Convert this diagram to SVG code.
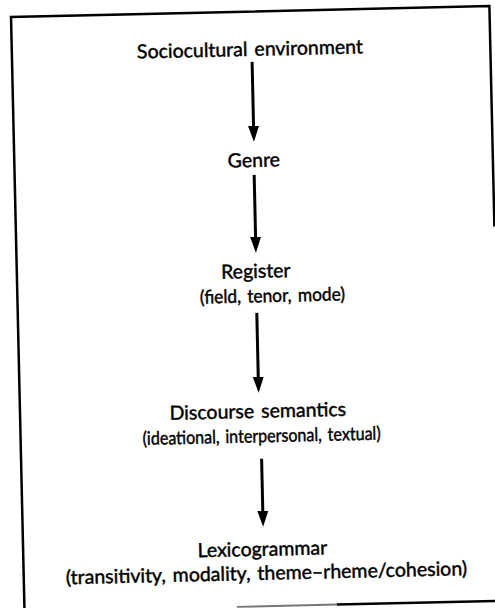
<svg xmlns="http://www.w3.org/2000/svg" width="495" height="608" viewBox="0 0 495 608">
<style>
.t{font-family:Lato,"Open Sans","Liberation Sans",sans-serif;font-size:19.5px;fill:#000;stroke:#000;stroke-width:0.45;text-anchor:middle;word-spacing:2px}
.s{font-size:18.5px;word-spacing:2px}
.f{stroke:#000;stroke-width:2.5;fill:none}
.c{stroke:#000;stroke-width:3;fill:none}
</style>
<defs>
<marker id="ah" markerWidth="16" markerHeight="23" refX="16" refY="8" orient="auto" markerUnits="userSpaceOnUse" viewBox="0 0 23 16">
<path d="M0,0 L23,8 L0,16 Z" fill="#000"/>
</marker>
</defs>
<rect width="495" height="608" fill="#fff"/>
<g transform="rotate(-1.3 250 300)">
<g id="frame">
<path class="f" d="M17.5,630 L17.5,11.6 L496,11.6 L496,232"/>
<path d="M230,606.5 L330,606.5" stroke="#777" stroke-width="2"/>
<path d="M330,606.5 L520,606.5" stroke="#000" stroke-width="2.5"/>
</g>
<g id="connectors">
<line class="c" x1="257.5" y1="62" x2="257.5" y2="137" marker-end="url(#ah)"/>
<line class="c" x1="257" y1="175" x2="257" y2="248" marker-end="url(#ah)"/>
<line class="c" x1="256.5" y1="313" x2="256.5" y2="388" marker-end="url(#ah)"/>
<line class="c" x1="258" y1="459" x2="258" y2="522" marker-end="url(#ah)"/>
</g>
<g id="n1"><text class="t" x="255.6" y="56">Sociocultural environment</text></g>
<g id="n2"><text class="t" x="257" y="167">Genre</text></g>
<g id="n3"><text class="t" x="256.5" y="278">Register</text>
<text class="t s" x="272.5" y="302.5" textLength="145" lengthAdjust="spacingAndGlyphs">(field, tenor, mode)</text></g>
<g id="n4"><text class="t" x="255.3" y="418">Discourse semantics</text>
<text class="t s" x="258.5" y="442.5" textLength="238" lengthAdjust="spacingAndGlyphs">(ideational, interpersonal, textual)</text></g>
<g id="n5"><text class="t" x="256.7" y="556">Lexicogrammar</text>
<text class="t" x="260.2" y="580">(transitivity, modality, theme–rheme/cohesion)</text></g>
</g>
</svg>
